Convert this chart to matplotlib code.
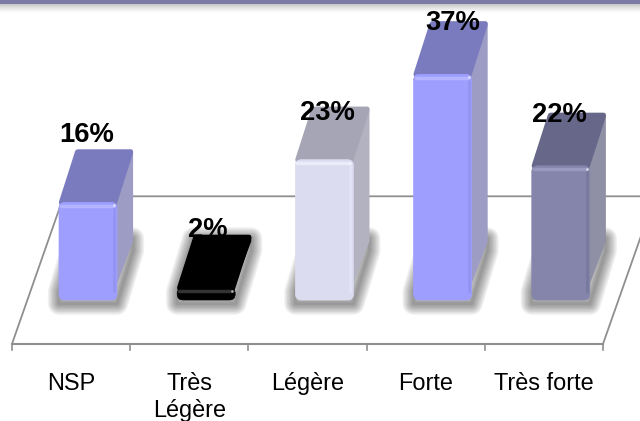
import matplotlib
matplotlib.use('Agg')
import matplotlib.pyplot as plt
from matplotlib.patches import FancyBboxPatch, Polygon

plt.rcParams['font.family'] = ['Liberation Sans', 'DejaVu Sans']

# Data
categories = ['NSP', 'Très\nLégère', 'Légère', 'Forte', 'Très forte']
values = [16, 2, 23, 37, 22]
front_colors = ['#9e9eff', '#000000', '#dcdcf0', '#9e9eff', '#8585ab']
top_colors = ['#7a7abf', '#000000', '#a5a5b5', '#7a7abf', '#67678a']
side_colors = ['#9c9cc4', '#0a0a0a', '#b2b2c0', '#9c9cc4', '#8f8fa5']
edge_colors = ['#b4b4ff', '#333333', '#ecebfa', '#b4b4ff', '#9a9ac0']
strip_colors = ['#8f8ff0', '#000000', '#e6e6fa', '#8f8ff0', '#75759c']
# label offsets from front top-left of each bar, in pixels
label_dx = [28, 31, 32, 39, 28]
label_dy = [67, 58, 47, 51, 51]

# scales: pixels per category and per percent
X_UNIT = 118.2
Y_UNIT = 6.1
X0 = 12
Y0 = 300
W, H = 640, 421
bar_left = 47 / X_UNIT
bar_w = 58 / X_UNIT
dx = 16 / X_UNIT
dy = 53 / Y_UNIT
aspect = X_UNIT / Y_UNIT
floor_front = -7.2
floor_back = 17.0
floor_shift = 52 / X_UNIT

fig = plt.figure(figsize=(W / 100, H / 100), dpi=100)
ax = fig.add_axes([0, 0, 1, 1])
ax.set_xlim(-X0 / X_UNIT, (W - X0) / X_UNIT)
ax.set_ylim((Y0 - H) / Y_UNIT, Y0 / Y_UNIT)
ax.axis('off')
ymax = Y0 / Y_UNIT
py = 1 / Y_UNIT
px = 1 / X_UNIT

# header band with its soft shadow
ax.axhspan(ymax - 4 * py, ymax, color='#7b7ba6', lw=0, zorder=5)
for i in range(9):
    ax.axhspan(ymax - (5 + i) * py, ymax - (4 + i) * py, color='#777777',
               alpha=0.42 * (1 - i / 9) ** 1.5, lw=0, zorder=5)

# floor
n = len(categories)
floor_color = '#8f8f8f'
ax.plot([0, bar_left * 1.1, n + floor_shift], [floor_front, floor_back, floor_back],
        color=floor_color, lw=1.3, zorder=1)
ax.plot([n, n + floor_shift], [floor_front, floor_back], color=floor_color, lw=1.3, zorder=1)
ax.plot([0, n], [floor_front, floor_front], color=floor_color, lw=1.5, zorder=1)
for i in range(n + 1):
    ax.plot([i, i], [floor_front, floor_front - 1], color=floor_color, lw=1.2, zorder=1)

for i, v in enumerate(values):
    x = i + bar_left
    # shadow, built from widening transparent outlines of a short bar
    low = -0.6
    cap = 2 + low
    shadow = [(x, low), (x + bar_w, low), (x + bar_w + dx, low + dy),
              (x + bar_w + dx, cap + dy), (x + dx, cap + dy), (x, cap)]
    for lw in range(2, 18, 2):
        ax.add_patch(Polygon(shadow, closed=True, facecolor='none', edgecolor='#000000',
                             alpha=0.06, lw=lw, joinstyle='round', zorder=2))
    # side and top faces, rounded through thick round-joined outlines
    ax.add_patch(Polygon([(x + bar_w - 6 * px, 1), (x + bar_w + dx - 2 * px, dy + 1),
                          (x + bar_w + dx - 2 * px, v + dy - 2 * py), (x + bar_w - 4 * px, v)],
                         closed=True, facecolor=side_colors[i], edgecolor=side_colors[i],
                         lw=3, joinstyle='round', zorder=3))
    ax.add_patch(Polygon([(x + 3 * px, v), (x + bar_w - 3 * px, v),
                          (x + bar_w + dx - 3 * px, v + dy - 3 * py), (x + dx + 3 * px, v + dy - 3 * py)],
                         closed=True, facecolor=top_colors[i], edgecolor=top_colors[i],
                         lw=4.5, joinstyle='round', zorder=3))
    # front face with bevel highlights
    ax.add_patch(FancyBboxPatch((x, 0), bar_w, v, boxstyle='round,pad=0,rounding_size=0.05',
                                mutation_aspect=aspect, facecolor=front_colors[i],
                                edgecolor=front_colors[i], lw=0.5, zorder=4))
    if v > 2:
        ax.plot([x + bar_w - 3 * px] * 2, [1.5, v - 1], color=strip_colors[i], lw=2, alpha=0.7, zorder=4)
    ax.plot([x + 2 * px, x + bar_w - 4 * px], [v - 0.6, v - 0.6], color=edge_colors[i], lw=2.5,
            solid_capstyle='round', zorder=4)
    ax.plot([x + bar_w - 3 * px], [v - 0.5], marker='o', ms=2, color='#ffffff', alpha=0.6, mew=0, zorder=4)
    # value labels: the short black bar hides its own label
    ax.annotate(f'{v}%', (x, v), xytext=(label_dx[i], label_dy[i]), textcoords='offset pixels',
                ha='center', va='center', fontsize=19.7, fontweight='bold', color='black',
                zorder=6 if v > 2 else 2.5)
    ax.text(i + 0.5, (Y0 - 372) / Y_UNIT, categories[i], ha='center', va='top', fontsize=16.9,
            color='black', linespacing=1.2, zorder=6)

fig.savefig('out.png', dpi=100)
